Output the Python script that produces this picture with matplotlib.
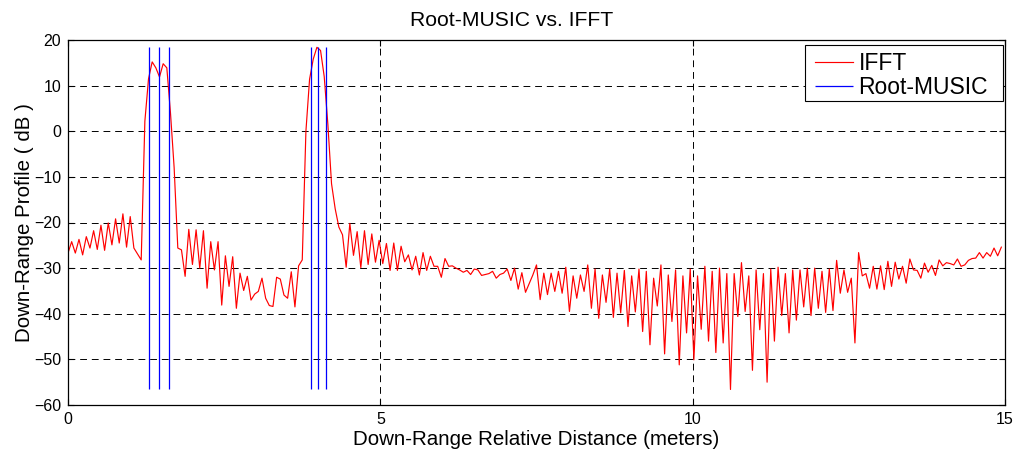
import numpy as np
import matplotlib
matplotlib.use("Agg")
import matplotlib.pyplot as plt
from matplotlib.patches import Rectangle

# Down-range profile from the IFFT (dB), one value per range bin
range_step = 15.0 / 256
ifft_db = [
    -26.7, -24.2, -26.7, -23.7, -27.1, -23.1, -25.6, -21.8, -25.9, -20.6,
    -26.1, -20.1, -24.9, -19.2, -24.5, -18.1, -25.4, -18.7, -25.6, -26.9,
    -28.2, 2.2, 11.5, 15.2, 13.9, 11.9, 14.8, 13.9, 4.0, -8.0,
    -25.6, -26.0, -31.8, -21.5, -29.2, -21.6, -30.0, -21.8, -34.4, -24.2,
    -30.4, -24.2, -38.1, -27.3, -34.0, -27.5, -38.8, -31.1, -34.9, -31.8,
    -37.0, -35.7, -35.1, -32.2, -36.6, -38.2, -38.4, -32.0, -32.4, -35.9,
    -36.6, -30.8, -38.5, -29.5, -28.2, 0.0, 11.4, 15.8, 18.4, 17.7,
    12.0, 1.5, -11.5, -17.0, -21.0, -22.7, -29.8, -20.2, -27.2, -22.0,
    -29.9, -21.8, -29.2, -22.5, -28.7, -23.9, -29.0, -24.6, -30.5, -24.5,
    -30.5, -25.2, -28.6, -27.1, -30.4, -27.4, -31.5, -26.6, -30.5, -27.4,
    -29.6, -29.6, -32.0, -27.9, -29.6, -29.5, -30.0, -30.4, -30.9, -30.5,
    -31.4, -30.2, -30.4, -31.6, -31.4, -31.2, -30.7, -32.2, -31.4, -31.1,
    -30.2, -32.7, -30.0, -34.6, -31.0, -35.3, -33.4, -31.5, -29.3, -36.9,
    -31.1, -35.8, -31.1, -35.1, -30.7, -35.5, -29.8, -39.5, -31.7, -36.6,
    -31.5, -35.1, -29.3, -38.8, -30.2, -41.0, -31.5, -37.5, -30.2, -40.8,
    -31.1, -39.8, -30.5, -42.8, -31.7, -39.6, -30.2, -43.9, -30.7, -46.8,
    -32.2, -38.3, -29.3, -48.8, -31.5, -41.7, -30.4, -51.2, -31.7, -44.2,
    -30.2, -50.1, -31.7, -43.4, -29.6, -46.0, -30.7, -48.5, -30.0, -46.4,
    -31.2, -56.6, -31.2, -40.6, -28.8, -39.5, -31.7, -52.4, -30.4, -43.5,
    -31.2, -55.0, -30.2, -46.0, -29.8, -40.4, -31.2, -44.2, -30.4, -41.4,
    -30.4, -38.5, -30.0, -40.4, -30.0, -38.8, -30.7, -39.7, -30.2, -39.3,
    -28.3, -35.5, -30.4, -35.3, -32.2, -46.4, -26.6, -31.7, -31.2, -34.4,
    -29.6, -34.6, -29.5, -34.7, -28.5, -34.0, -28.7, -32.4, -29.6, -33.3,
    -28.0, -30.4, -30.5, -32.2, -28.9, -30.9, -29.4, -31.6, -28.2, -29.5,
    -28.8, -29.0, -29.3, -28.0, -29.6, -29.3, -28.3, -27.9, -27.8, -26.6,
    -27.8, -26.6, -27.4, -25.6, -27.3, -25.4,
]
distance = np.arange(len(ifft_db)) * range_step

# Root-MUSIC target range estimates (meters) and the marker extent (dB)
music_ranges = [1.30, 1.46, 1.61, 3.89, 4.01, 4.13]
music_span = (-56.5, 18.4)

x_ticks = [0, 5, 10, 15]
y_ticks = [-60, -50, -40, -30, -20, -10, 0, 10, 20]

plt.rcParams["font.family"] = ["Liberation Sans", "DejaVu Sans"]

fig = plt.figure(figsize=(10.23, 4.57), dpi=100)
ax = fig.add_axes([68 / 1023, 1 - 405 / 457, 937 / 1023, 365 / 457])

ax.plot(distance, ifft_db, color="red", lw=0.85, label="IFFT")
ax.vlines(music_ranges, music_span[0], music_span[1], color="blue", lw=0.9,
          label="Root-MUSIC")

ax.set_xlim(0, 15)
ax.set_ylim(-60, 20)
ax.set_xticks(x_ticks)
ax.set_yticks(y_ticks)
ax.tick_params(direction="in", top=True, right=True, length=4, width=0.8,
               labelsize=11.5, pad=5)
for s in ax.spines.values():
    s.set_linewidth(0.9)
    s.set_color("black")

ax.grid(True, color="black", lw=0.7, linestyle=(0, (7, 5)))

ax.set_title("Root-MUSIC vs. IFFT", fontsize=15.2, x=0.473, pad=10)
ax.set_xlabel("Down-Range Relative Distance (meters)", fontsize=14.8, labelpad=2)
ax.set_ylabel("Down-Range Profile ( dB )", fontsize=14.8, labelpad=0)

# Legend box with a wider right margin than matplotlib's symmetric padding
ax.add_patch(Rectangle((0.7866, 0.8329), 0.9979 - 0.7866, 0.9863 - 0.8329,
                       transform=ax.transAxes, facecolor="white",
                       edgecolor="black", lw=0.8, zorder=4.9))
leg = ax.legend(loc="upper left", fontsize=16.5, frameon=False,
                borderaxespad=0.0, handlelength=1.65, handletextpad=0.25,
                borderpad=0.3, labelspacing=0.05,
                bbox_to_anchor=(0.7898, 0.986))
leg.set_zorder(5)

fig.savefig("out.png", dpi=100)
